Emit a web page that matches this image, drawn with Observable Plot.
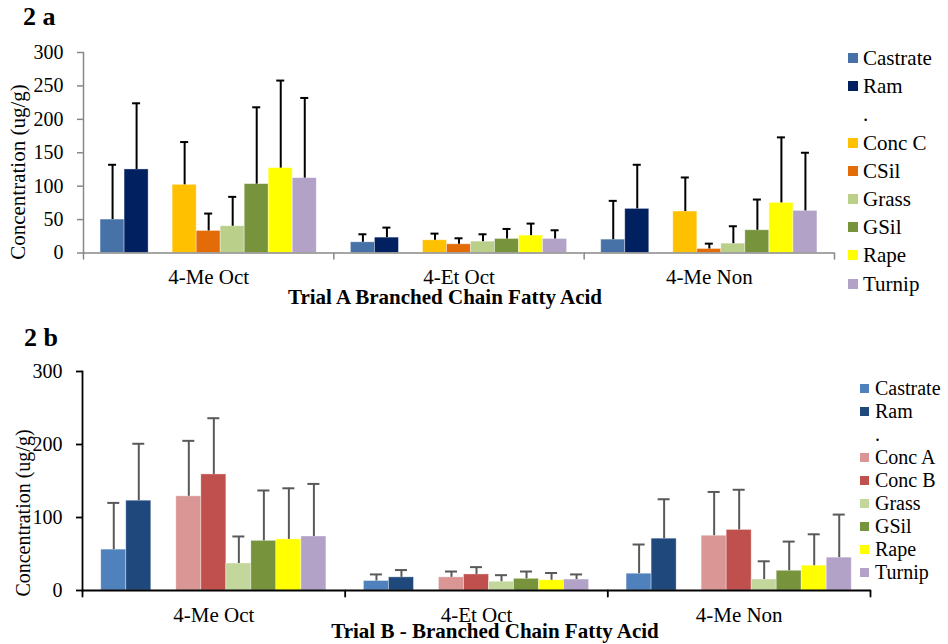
<!DOCTYPE html>
<html>
<head>
<meta charset="utf-8">
<script src="https://cdn.jsdelivr.net/npm/d3@7"></script>
<script src="https://cdn.jsdelivr.net/npm/@observablehq/plot@0.6"></script>
<style>
  body { margin: 0; background: #fff; }
  #root { position: relative; width: 948px; height: 644px; overflow: hidden;
          font-family: "Liberation Serif", "Times New Roman", serif; color: #000; }
  .t { position: absolute; white-space: nowrap; line-height: 1; }
  .panel { position: absolute; left: 0; }
  .sw { position: absolute; }
</style>
</head>
<body>
<div id="root"></div>
<script>
// ---------- Trial A ----------
const acidsA = ["4-Me Oct", "4-Et Oct", "4-Me Non"];
const seriesA = ["Castrate", "Ram", ".", "Conc C", "CSil", "Grass", "GSil", "Rape", "Turnip"];
const colorsA = ["#4672A8", "#002060", "#FFC000", "#E36C09", "#B9CF8A", "#77933C", "#FFFF00", "#B2A2C7"];
// means (ug/g) in series order, "." excluded
const aMeOctMean = [50, 125, 102, 33, 40, 103, 127, 112];
const aEtOctMean = [16, 23, 19, 13, 17, 21, 26, 21];
const aMeNonMean = [20, 66, 62, 6, 14, 34, 75, 63];
// standard deviations (upper error bar lengths)
const aMeOctSD = [82, 99, 64, 26, 44, 115, 131, 120];
const aEtOctSD = [12, 15, 10, 9, 11, 15, 18, 13];
const aMeNonSD = [58, 66, 51, 8, 26, 46, 98, 87];
const yTicksA = [0, 50, 100, 150, 200, 250, 300];

// ---------- Trial B ----------
const acidsB = ["4-Me Oct", "4-Et Oct", "4-Me Non"];
const seriesB = ["Castrate", "Ram", ".", "Conc A", "Conc B", "Grass", "GSil", "Rape", "Turnip"];
const colorsB = ["#4F81BD", "#1F497D", "#D99694", "#C0504D", "#C3D69B", "#77933C", "#FFFF00", "#B2A2C7"];
const bMeOctMean = [56, 123, 129, 159, 37, 68, 70, 74];
const bEtOctMean = [13, 18, 18, 22, 12, 16, 14, 15];
const bMeNonMean = [23, 71, 75, 83, 15, 27, 34, 45];
const bMeOctSD = [64, 78, 76, 77, 37, 69, 70, 72];
const bEtOctSD = [9, 10, 8, 10, 9, 10, 10, 7];
const bMeNonSD = [40, 54, 60, 55, 25, 40, 43, 59];
const yTicksB = [0, 100, 200, 300];

const root = document.getElementById("root");
const FONT = '"Liberation Serif", "Times New Roman", serif';

function addText(str, x, y, {size = 20, weight = "normal", anchor = "middle", rotate = 0} = {}) {
  const d = document.createElement("div");
  d.className = "t";
  d.textContent = str;
  d.style.fontSize = size + "px";
  d.style.fontWeight = weight;
  d.style.left = x + "px";
  d.style.top = y + "px";
  const tx = anchor === "middle" ? "-50%" : anchor === "end" ? "-100%" : "0";
  d.style.transform = `translate(${tx},-50%)` + (rotate ? ` rotate(${rotate}deg)` : "");
  root.appendChild(d);
}

function addLegend(series, colors, {x, textX, y0, step, sw, size}) {
  let k = 0;
  series.forEach((s, i) => {
    const y = y0 + i * step;
    if (s !== ".") {
      const b = document.createElement("div");
      b.className = "sw";
      b.style.left = x + "px";
      b.style.top = (y - sw / 2) + "px";
      b.style.width = sw + "px";
      b.style.height = sw + "px";
      b.style.background = colors[k++];
      root.appendChild(b);
    }
    addText(s, textX, y, {size, anchor: "start"});
  });
}

const tickShape = {draw(context, l) { context.moveTo(0, 0); context.lineTo(0, -l); }};

function drawPanel(cfg) {
  const {acids, series, colors, means, sds, top, height, marginLeft, marginRight, marginTop, marginBottom,
         yTicks, axisColor, axisWidth, errColor, capInset, outerPad, labelPad} = cfg;
  const real = series.filter(s => s !== ".");
  const rows = acids.flatMap((acid, i) => real.map((s, j) => ({acid, series: s, mean: means[i][j], sd: sds[i][j]})));
  const svg = Plot.plot({
    width: 948, height, marginLeft, marginRight, marginTop, marginBottom,
    style: {fontFamily: FONT, fontSize: "20px", color: "#000", background: "transparent", overflow: "visible"},
    fx: {domain: acids, padding: 0, round: false, label: null},
    x: {domain: series, paddingInner: 0, paddingOuter: outerPad, round: false, axis: null},
    y: {domain: [0, 300], label: null},
    color: {domain: real, range: colors},
    marks: [
      Plot.barY(rows, {fx: "acid", x: "series", y: "mean", fill: "series", stroke: "#fff", strokeOpacity: 0.45, strokeWidth: 0.8}),
      Plot.ruleX(rows, {fx: "acid", x: "series", y1: "mean", y2: d => d.mean + d.sd, stroke: errColor, strokeWidth: 2}),
      Plot.tickY(rows, {fx: "acid", x: "series", y: d => d.mean + d.sd, stroke: errColor, strokeWidth: 2, insetLeft: capInset, insetRight: capInset}),
      Plot.ruleY([0], {stroke: axisColor, strokeWidth: axisWidth}),
      Plot.frame({anchor: "left", facetAnchor: "left", stroke: axisColor, strokeWidth: axisWidth}),
      Plot.vector(acids, {fx: d => d, frameAnchor: "bottom-left", length: 6, rotate: 180, anchor: "start", shape: tickShape, stroke: axisColor, strokeWidth: axisWidth}),
      Plot.vector(acids.slice(-1), {fx: d => d, frameAnchor: "bottom-right", length: 6, rotate: 180, anchor: "start", shape: tickShape, stroke: axisColor, strokeWidth: axisWidth}),
      Plot.axisY({ticks: yTicks, tickSize: 6, tickPadding: 14, stroke: axisColor, strokeWidth: axisWidth, fill: "#000", fontSize: 20, label: null}),
      Plot.axisFx({anchor: "bottom", tickSize: 0, tickPadding: labelPad, fontSize: 21, fill: "#000", label: null})
    ]
  });
  const wrap = document.createElement("div");
  wrap.className = "panel";
  wrap.style.top = top + "px";
  wrap.appendChild(svg);
  root.appendChild(wrap);
}

// Panel a
drawPanel({
  acids: acidsA, series: seriesA, colors: colorsA,
  means: [aMeOctMean, aEtOctMean, aMeNonMean], sds: [aMeOctSD, aEtOctSD, aMeNonSD],
  top: 0, height: 310, marginLeft: 83, marginRight: 114, marginTop: 52, marginBottom: 57.5,
  yTicks: yTicksA, axisColor: "#888888", axisWidth: 1.5, errColor: "#000", capInset: 8, outerPad: 0.71, labelPad: 16
});
addText("2 a", 23, 17, {size: 26, weight: "bold", anchor: "start"});
addText("Concentration (ug/g)", 18, 172, {size: 21, rotate: -90});
addText("Trial A Branched Chain Fatty Acid", 445, 297, {size: 21, weight: "bold"});
addLegend(seriesA, colorsA, {x: 848, textX: 863, y0: 58, step: 28.2, sw: 10, size: 21});

// Panel b
drawPanel({
  acids: acidsB, series: seriesB, colors: colorsB,
  means: [bMeOctMean, bEtOctMean, bMeNonMean], sds: [bMeOctSD, bEtOctSD, bMeNonSD],
  top: 310, height: 334, marginLeft: 82, marginRight: 78, marginTop: 61, marginBottom: 54,
  yTicks: yTicksB, axisColor: "#000", axisWidth: 1.8, errColor: "#595959", capInset: 6.5, outerPad: 0.75, labelPad: 17
});
addText("2 b", 24, 338, {size: 26, weight: "bold", anchor: "start"});
addText("Concentration (ug/g)", 23, 513, {size: 20, rotate: -90});
addText("Trial B - Branched Chain Fatty Acid", 495, 631, {size: 21, weight: "bold"});
addLegend(seriesB, colorsB, {x: 860, textX: 875, y0: 388, step: 23, sw: 9, size: 20});
</script>
</body>
</html>
